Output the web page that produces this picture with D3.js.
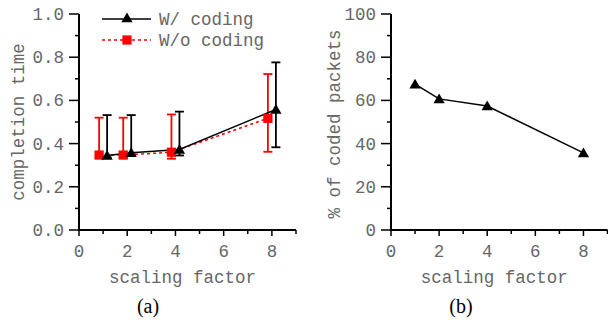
<!DOCTYPE html>
<html>
<head>
<meta charset="utf-8">
<script src="https://cdn.jsdelivr.net/npm/d3@7"></script>
<style>
  html, body { margin: 0; padding: 0; background: #fff; }
  svg { display: block; }
</style>
</head>
<body>
<svg id="chart" width="608" height="320"></svg>
<script>
// scaling factors on the x axis
const scalingFactors = [1, 2, 4, 8];

// (a) completion time, with coding
const withCoding = [0.345, 0.358, 0.373, 0.558];
const withCodingLow = [0.335, 0.345, 0.345, 0.383];
const withCodingHigh = [0.532, 0.532, 0.548, 0.776];

// (a) completion time, without coding
const withoutCoding = [0.347, 0.347, 0.36, 0.517];
const withoutCodingLow = [0.335, 0.335, 0.33, 0.362];
const withoutCodingHigh = [0.52, 0.52, 0.535, 0.722];

// (b) % of coded packets
const codedPct = [67.5, 60.7, 57.4, 35.7];

const xTicks = [0, 2, 4, 6, 8];
const xMinorTicks = [1, 3, 5, 7, 9];
const yTicksA = [0, 0.2, 0.4, 0.6, 0.8, 1.0];
const yMinorA = [0.1, 0.3, 0.5, 0.7, 0.9];
const yTicksB = [0, 20, 40, 60, 80, 100];
const yMinorB = [10, 30, 50, 70, 90];

const mono = "'Liberation Mono', 'DejaVu Sans Mono', monospace";
const serif = "'Liberation Serif', 'DejaVu Serif', serif";
const textColor = "#666";

const svg = d3.select("#chart");

const triangle = d3.symbol().type(d3.symbolTriangle).size(55);
const square = d3.symbol().type(d3.symbolSquare).size(85);

// draws both axes with major + minor ticks
function drawAxes(g, x, y, yTicks, yMinor, yFmt) {
    const top = y.range()[1], bottom = y.range()[0];
    const left = x.range()[0], right = x.range()[1];

    g.append("line")
        .attr("x1", left).attr("x2", left)
        .attr("y1", top).attr("y2", bottom + 1)
        .attr("stroke", "#000").attr("stroke-width", 2);
    g.append("line")
        .attr("x1", left - 1).attr("x2", right)
        .attr("y1", bottom).attr("y2", bottom)
        .attr("stroke", "#000").attr("stroke-width", 2);

    // y ticks
    g.selectAll(null).data(yTicks).enter().append("line")
        .attr("x1", left - 10).attr("x2", left)
        .attr("y1", d => y(d)).attr("y2", d => y(d))
        .attr("stroke", "#000").attr("stroke-width", 1.5);
    g.selectAll(null).data(yMinor).enter().append("line")
        .attr("x1", left - 4).attr("x2", left)
        .attr("y1", d => y(d)).attr("y2", d => y(d))
        .attr("stroke", "#000").attr("stroke-width", 1.5);
    g.selectAll(null).data(yTicks).enter().append("text")
        .attr("x", left - 15)
        .attr("y", d => y(d) + 6)
        .attr("text-anchor", "end")
        .style("font-family", mono).style("font-size", "17.5px")
        .attr("fill", textColor)
        .text(yFmt);

    // x ticks
    g.selectAll(null).data(xTicks).enter().append("line")
        .attr("x1", d => x(d)).attr("x2", d => x(d))
        .attr("y1", bottom).attr("y2", bottom + 6)
        .attr("stroke", "#000").attr("stroke-width", 1.5);
    g.selectAll(null).data(xMinorTicks).enter().append("line")
        .attr("x1", d => x(d)).attr("x2", d => x(d))
        .attr("y1", bottom).attr("y2", bottom + 4)
        .attr("stroke", "#000").attr("stroke-width", 1.5);
    g.selectAll(null).data(xTicks).enter().append("text")
        .attr("x", d => x(d))
        .attr("y", bottom + 27)
        .attr("text-anchor", "middle")
        .style("font-family", mono).style("font-size", "17.5px")
        .attr("fill", textColor)
        .text(d => d);

    g.append("text")
        .attr("x", (left + x(8)) / 2 + 7)
        .attr("y", 283)
        .attr("text-anchor", "middle")
        .style("font-family", mono).style("font-size", "17.5px")
        .attr("fill", textColor)
        .text("scaling factor");
}

function errorBars(g, x, y, lows, highs, dx, color) {
    const cap = 4.5;
    const grp = g.append("g");
    scalingFactors.forEach((s, i) => {
        const cx = x(s) + dx;
        grp.append("line")
            .attr("x1", cx).attr("x2", cx)
            .attr("y1", y(lows[i])).attr("y2", y(highs[i]))
            .attr("stroke", color).attr("stroke-width", 1.8);
        [lows[i], highs[i]].forEach(v => {
            grp.append("line")
                .attr("x1", cx - cap).attr("x2", cx + cap)
                .attr("y1", y(v)).attr("y2", y(v))
                .attr("stroke", color).attr("stroke-width", 1.8);
        });
    });
}

// ---------- (a) completion time ----------
const xA = d3.scaleLinear().domain([0, 9]).range([79, 296]);
const yA = d3.scaleLinear().domain([0, 1]).range([230, 14]);
const gA = svg.append("g");
drawAxes(gA, xA, yA, yTicksA, yMinorA, d => d3.format(".1f")(d));

gA.append("text")
    .attr("transform", `translate(24,122) rotate(-90)`)
    .attr("text-anchor", "middle")
    .style("font-family", mono).style("font-size", "17.5px")
    .attr("fill", textColor)
    .text("completion time");

const dodge = 4;
errorBars(gA, xA, yA, withoutCodingLow, withoutCodingHigh, -dodge, "#ff0000");
errorBars(gA, xA, yA, withCodingLow, withCodingHigh, dodge, "#000");

const lineRed = d3.line()
    .x((d, i) => xA(scalingFactors[i]) - dodge)
    .y(d => yA(d));
gA.append("path")
    .datum(withoutCoding)
    .attr("d", lineRed)
    .attr("fill", "none")
    .attr("stroke", "#ff0000")
    .attr("stroke-width", 1.5)
    .attr("stroke-dasharray", "3,3");

const lineBlack = d3.line()
    .x((d, i) => xA(scalingFactors[i]) + dodge)
    .y(d => yA(d));
gA.append("path")
    .datum(withCoding)
    .attr("d", lineBlack)
    .attr("fill", "none")
    .attr("stroke", "#000")
    .attr("stroke-width", 1.5);

gA.selectAll(null).data(withoutCoding).enter().append("path")
    .attr("d", square)
    .attr("transform", (d, i) => `translate(${xA(scalingFactors[i]) - dodge},${yA(d)})`)
    .attr("fill", "#ff0000");
gA.selectAll(null).data(withCoding).enter().append("path")
    .attr("d", triangle)
    .attr("transform", (d, i) => `translate(${xA(scalingFactors[i]) + dodge},${yA(d) + 1})`)
    .attr("fill", "#000");

// legend
const legend = gA.append("g");
legend.append("line")
    .attr("x1", 102).attr("x2", 151).attr("y1", 19).attr("y2", 19)
    .attr("stroke", "#000").attr("stroke-width", 1.5);
legend.append("path").attr("d", triangle)
    .attr("transform", "translate(127,19)").attr("fill", "#000");
legend.append("text")
    .attr("x", 159).attr("y", 25)
    .style("font-family", mono).style("font-size", "17.5px")
    .attr("fill", textColor)
    .text("W/ coding");
legend.append("line")
    .attr("x1", 102).attr("x2", 151).attr("y1", 40).attr("y2", 40)
    .attr("stroke", "#ff0000").attr("stroke-width", 1.5)
    .attr("stroke-dasharray", "3,3");
legend.append("path").attr("d", square)
    .attr("transform", "translate(127,40)").attr("fill", "#ff0000");
legend.append("text")
    .attr("x", 159).attr("y", 46)
    .style("font-family", mono).style("font-size", "17.5px")
    .attr("fill", textColor)
    .text("W/o coding");

gA.append("text")
    .attr("x", 148).attr("y", 313)
    .attr("text-anchor", "middle")
    .style("font-family", serif).style("font-size", "20px")
    .attr("fill", "#000")
    .text("(a)");

// ---------- (b) % of coded packets ----------
const xB = d3.scaleLinear().domain([0, 9]).range([391, 607.5]);
const yB = d3.scaleLinear().domain([0, 100]).range([230, 14]);
const gB = svg.append("g");
drawAxes(gB, xB, yB, yTicksB, yMinorB, d => d);

gB.append("text")
    .attr("transform", `translate(340,124) rotate(-90)`)
    .attr("text-anchor", "middle")
    .style("font-family", mono).style("font-size", "17.5px")
    .attr("fill", textColor)
    .text("% of coded packets");

const lineB = d3.line()
    .x((d, i) => xB(scalingFactors[i]))
    .y(d => yB(d));
gB.append("path")
    .datum(codedPct)
    .attr("d", lineB)
    .attr("fill", "none")
    .attr("stroke", "#000")
    .attr("stroke-width", 1.5);
gB.selectAll(null).data(codedPct).enter().append("path")
    .attr("d", triangle)
    .attr("transform", (d, i) => `translate(${xB(scalingFactors[i])},${yB(d) + 1})`)
    .attr("fill", "#000");

gB.append("text")
    .attr("x", 461).attr("y", 313)
    .attr("text-anchor", "middle")
    .style("font-family", serif).style("font-size", "20px")
    .attr("fill", "#000")
    .text("(b)");
</script>
</body>
</html>
